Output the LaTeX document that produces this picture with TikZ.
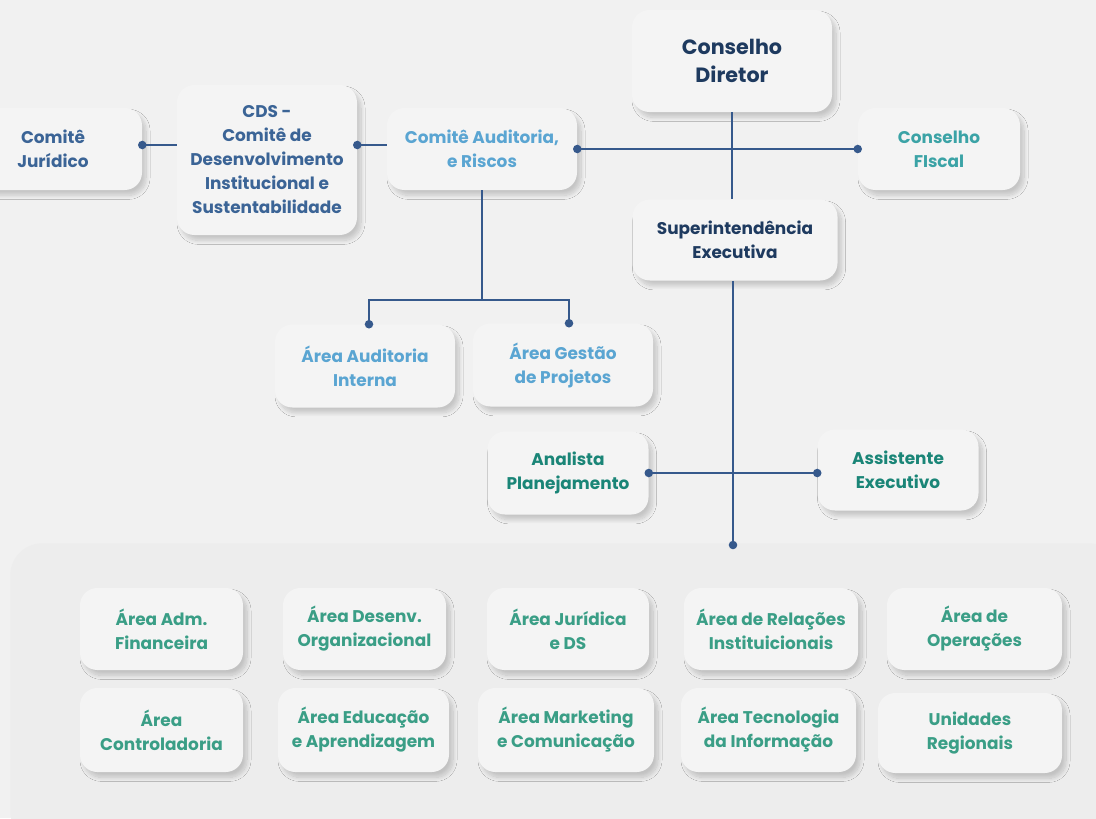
\documentclass[tikz,border=0pt]{standalone}
\usepackage{fontspec}
\setmainfont{Poppins}
\usetikzlibrary{shadows.blur}
\definecolor{bgc}{HTML}{F1F1F1}
\definecolor{boxc}{HTML}{F4F4F4}
\definecolor{contc}{HTML}{EDEDED}
\definecolor{navy}{HTML}{1E3A5F}
\definecolor{cdsblue}{HTML}{3B6496}
\definecolor{lblue}{HTML}{5AA5D2}
\definecolor{fteal}{HTML}{3BA3A6}
\definecolor{dteal}{HTML}{1A8577}
\definecolor{areag}{HTML}{3A9E86}
\definecolor{linec}{HTML}{36598C}
\tikzset{
  box/.style={rounded corners=13pt, fill=boxc, align=center, font=\bfseries\fontsize{12.7}{18}\selectfont, inner sep=0pt,
    blur shadow={shadow xshift=3pt, shadow yshift=-4pt, shadow blur radius=3pt, shadow blur steps=10, shadow opacity=18}},
  bx/.style 2 args={minimum width=#1*0.75pt, minimum height=#2*0.75pt},
  ln/.style={draw=linec, line width=1.6pt},
  dotc/.style={fill=linec},
}
\newcommand{\dotat}[1]{\fill[dotc] (#1) circle (3.2pt);}
\begin{document}
\begin{tikzpicture}[x=0.75pt,y=-0.75pt]
\useasboundingbox (0,0) rectangle (1096,818);
\fill[bgc] (0,0) rectangle (1096,818);
% container
\node[fill=contc, rounded corners=24pt, minimum width=1110*0.75pt, minimum height=300*0.75pt, inner sep=0pt, anchor=north west] (cont) at (10,543) {};
\coordinate (ct) at (733,545);
% boxes
\node[box, bx={178}{82}, text=cdsblue] (jur) at (53,149) {Comitê\\Jurídico};
\node[box, bx={180}{150}, text=cdsblue] (cds) at (267,160) {CDS -\\Comitê de\\Desenvolvimento\\Institucional e\\Sustentabilidade};
\node[box, bx={190}{82}, text=lblue] (aud) at (482,149) {Comitê Auditoria,\\e Riscos};
\node[box, bx={200}{102}, text=navy, font=\bfseries\fontsize{15.5}{21.5}\selectfont] (dir) at (732,61) {Conselho\\Diretor};
\node[box, bx={162}{82}, text=fteal] (fis) at (939,149) {Conselho\\FIscal};
\node[box, bx={205}{81}, text=navy] (sup) at (735,240) {Superintendência\\Executiva};
\node[box, bx={180}{83}, text=lblue] (ai) at (365,366) {Área Auditoria\\Interna};
\node[box, bx={180}{83}, text=lblue] (ag) at (563,365) {Área Gestão\\de Projetos};
\node[box, bx={161}{83}, text=dteal] (an) at (568,473) {Analista\\Planejamento};
\node[box, bx={161}{81}, text=dteal] (as) at (898,470) {Assistente\\Executivo};
% areas
\node[box, bx={163}{82}, text=areag] (a1) at (161.5,629) {Área Adm.\\Financeira};
\node[box, bx={163}{82}, text=areag] (a2) at (364.5,629) {Área Desenv.\\Organizacional};
\node[box, bx={162}{82}, text=areag] (a3) at (568,629) {Área Jurídica\\e DS};
\node[box, bx={174}{82}, text=areag] (a4) at (771,629) {Área de Relações\\Instituicionais};
\node[box, bx={175}{82}, text=areag] (a5) at (974.5,629) {Área de\\Operações};
\node[box, bx={163}{84}, text=areag] (b1) at (161.5,730) {Área\\Controladoria};
\node[box, bx={171}{84}, text=areag] (b2) at (363.5,730) {Área Educação\\e Aprendizagem};
\node[box, bx={176}{84}, text=areag] (b3) at (566,730) {Área Marketing\\e Comunicação};
\node[box, bx={175}{84}, text=areag] (b4) at (768.5,730) {Área Tecnologia\\da Informação};
\node[box, bx={184}{80}, text=areag] (b5) at (970,733) {Unidades\\Regionais};
% connectors
\coordinate (j1) at ([yshift=3pt]jur.east);
\draw[ln] (j1) -- (j1 -| cds.west); \dotat{j1}
\coordinate (c1) at ([yshift=3pt]cds.east |- aud.east);
\draw[ln] (c1) -- (c1 -| aud.west); \dotat{c1}
\draw[ln] (aud.east) -- (fis.west); \dotat{aud.east} \dotat{fis.west}
\draw[ln] (dir.south) -- (dir.south |- sup.north);
\coordinate (br) at (482,300);
\draw[ln] (aud.south) -- (br);
\coordinate (aiT) at ([xshift=3pt]ai.north);
\coordinate (agT) at ([xshift=4.5pt]ag.north);
\draw[ln] (aiT) |- (br) -| (agT); \dotat{aiT} \dotat{agT}
\draw[ln] (sup.south -| ct) -- (ct); \dotat{ct}
\draw[ln] (an.east) -- (an.east -| as.west); \dotat{an.east} \dotat{an.east -| as.west}
\end{tikzpicture}
\end{document}
